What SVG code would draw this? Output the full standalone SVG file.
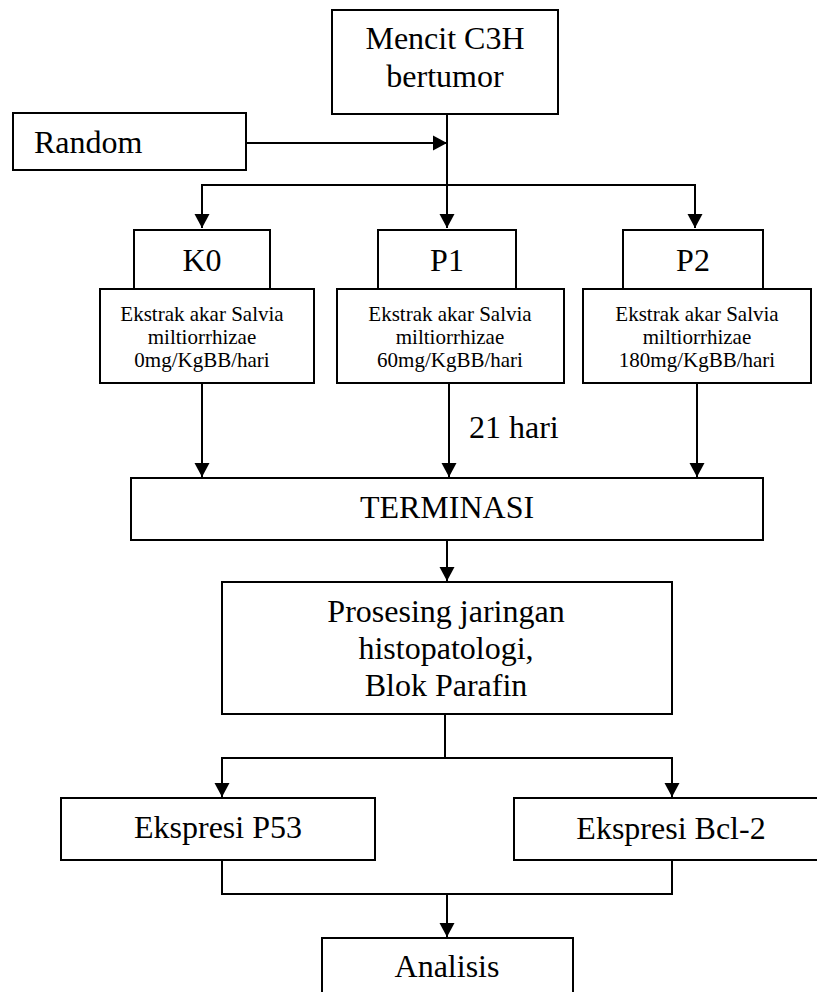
<svg xmlns="http://www.w3.org/2000/svg" width="817" height="992" viewBox="0 0 817 992">
<defs>
<style>
.box{fill:#fff;stroke:#000;stroke-width:2}
.t{font-family:"Liberation Serif","Times New Roman",serif;font-size:32px;fill:#000;text-anchor:middle}
.s{font-family:"Liberation Serif","Times New Roman",serif;font-size:21px;fill:#000;text-anchor:middle}
.c{fill:none;stroke:#000;stroke-width:2}
</style>
<marker id="ah" markerUnits="userSpaceOnUse" markerWidth="15" markerHeight="16" refX="14" refY="7.5" orient="auto" viewBox="0 0 15 15">
<path d="M0,0 L14,7.5 L0,15 z" fill="#000"/>
</marker>
</defs>
<rect width="817" height="992" fill="#fff"/>
<g id="connectors">
<path class="c" d="M246,143 H447" marker-end="url(#ah)"/>
<path class="c" d="M447,114 V228" marker-end="url(#ah)"/>
<path class="c" d="M447,185 H202 V228" marker-end="url(#ah)"/>
<path class="c" d="M447,185 H695 V228" marker-end="url(#ah)"/>
<path class="c" d="M202,383 V477" marker-end="url(#ah)"/>
<path class="c" d="M449,383 V477" marker-end="url(#ah)"/>
<path class="c" d="M697,383 V477" marker-end="url(#ah)"/>
<path class="c" d="M447,540 V581" marker-end="url(#ah)"/>
<path class="c" d="M445,714 V758"/>
<path class="c" d="M445,758 H222 V797" marker-end="url(#ah)"/>
<path class="c" d="M445,758 H672 V797" marker-end="url(#ah)"/>
<path class="c" d="M222,860 V894 H672 V860"/>
<path class="c" d="M447,894 V937" marker-end="url(#ah)"/>
</g>
<g id="mencit">
<rect class="box" x="332" y="10" width="226" height="104"/>
<text class="t" x="445" y="49">Mencit C3H</text>
<text class="t" x="445" y="87">bertumor</text>
</g>
<g id="random">
<rect class="box" x="13" y="113" width="233" height="57"/>
<text class="t" x="34" y="153" style="text-anchor:start">Random</text>
</g>
<g id="k0">
<rect class="box" x="134" y="230" width="136" height="59"/>
<text class="t" x="202" y="271">K0</text>
</g>
<g id="p1">
<rect class="box" x="378" y="230" width="138" height="59"/>
<text class="t" x="447" y="271">P1</text>
</g>
<g id="p2">
<rect class="box" x="623" y="230" width="140" height="59"/>
<text class="t" x="693" y="271">P2</text>
</g>
<g id="dose0">
<rect class="box" x="100" y="289" width="214" height="94"/>
<text class="s" x="202" y="321">Ekstrak akar Salvia</text>
<text class="s" x="202" y="344">miltiorrhizae</text>
<text class="s" x="202" y="367">0mg/KgBB/hari</text>
</g>
<g id="dose60">
<rect class="box" x="337" y="289" width="227" height="94"/>
<text class="s" x="450" y="321">Ekstrak akar Salvia</text>
<text class="s" x="450" y="344">miltiorrhizae</text>
<text class="s" x="450" y="367">60mg/KgBB/hari</text>
</g>
<g id="dose180">
<rect class="box" x="583" y="289" width="228" height="94"/>
<text class="s" x="697" y="321">Ekstrak akar Salvia</text>
<text class="s" x="697" y="344">miltiorrhizae</text>
<text class="s" x="697" y="367">180mg/KgBB/hari</text>
</g>
<g id="label21">
<text class="t" x="469" y="438" style="text-anchor:start">21 hari</text>
</g>
<g id="terminasi">
<rect class="box" x="131" y="478" width="632" height="62"/>
<text class="t" x="447" y="518">TERMINASI</text>
</g>
<g id="prosesing">
<rect class="box" x="222" y="582" width="450" height="132"/>
<text class="t" x="446" y="622">Prosesing jaringan</text>
<text class="t" x="446" y="659">histopatologi,</text>
<text class="t" x="446" y="696">Blok Parafin</text>
</g>
<g id="p53">
<rect class="box" x="61" y="798" width="314" height="62"/>
<text class="t" x="218" y="838">Ekspresi P53</text>
</g>
<g id="bcl2">
<rect class="box" x="514" y="798" width="320" height="62"/>
<text class="t" x="671" y="839">Ekspresi Bcl-2</text>
</g>
<g id="analisis">
<rect class="box" x="322" y="938" width="251" height="80"/>
<text class="t" x="447" y="977">Analisis</text>
</g>
</svg>
